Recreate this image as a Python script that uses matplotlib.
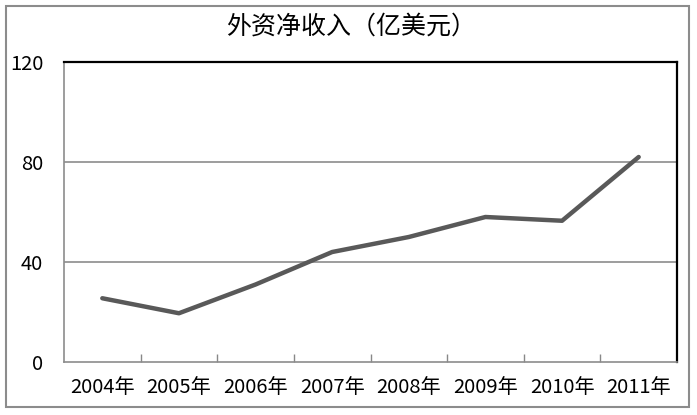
import matplotlib
matplotlib.use("Agg")
import matplotlib.pyplot as plt
from matplotlib.patches import Rectangle

plt.rcParams['font.family'] = ['Noto Sans CJK SC', 'DejaVu Sans']

years = ['2004年', '2005年', '2006年', '2007年', '2008年', '2009年', '2010年', '2011年']
values = [25.5, 19.5, 31, 44, 50, 58, 56.5, 82]
y_ticks = [0, 40, 80, 120]
title = '外资净收入（亿美元）'

W, H = 697, 415
fig = plt.figure(figsize=(W / 100, H / 100), dpi=100)
ax = fig.add_axes([64 / W, 1 - 362 / H, (677 - 64) / W, (362 - 62) / H])

x = list(range(len(years)))
ax.plot(x, values, color='#595959', linewidth=3.2, solid_capstyle='round', zorder=3)

ax.set_xlim(-0.5, len(years) - 0.5)
ax.set_ylim(0, 120)
ax.set_yticks(y_ticks)
ax.set_yticklabels([str(v) for v in y_ticks], fontsize=14.5)
ax.tick_params(axis='y', length=0, pad=15)

ax.set_xticks(x)
ax.set_xticklabels(years, fontsize=14.5)
ax.tick_params(axis='x', length=0, pad=11)
# category separators on the x axis
ax.set_xticks([i + 0.5 for i in x[:-1]], minor=True)
ax.tick_params(axis='x', which='minor', direction='in', length=6, color='#888888', width=1)

for v in y_ticks[1:-1]:
    ax.axhline(v, color='#8c8c8c', linewidth=1.2, zorder=1)

for side in ['left', 'bottom']:
    ax.spines[side].set_color('#8c8c8c')
    ax.spines[side].set_linewidth(1.2)
for side in ['top', 'right']:
    ax.spines[side].set_color('black')
    ax.spines[side].set_linewidth(1.6)

fig.text(351 / W, 1 - 27 / H, title, ha='center', va='center', fontsize=18)

fig.patches.append(Rectangle((6 / W, 1 - 407 / H), (689 - 6) / W, (407 - 6) / H,
                             transform=fig.transFigure, fill=False,
                             edgecolor='#8c8c8c', linewidth=1.5))

fig.savefig('out.png', dpi=100)
